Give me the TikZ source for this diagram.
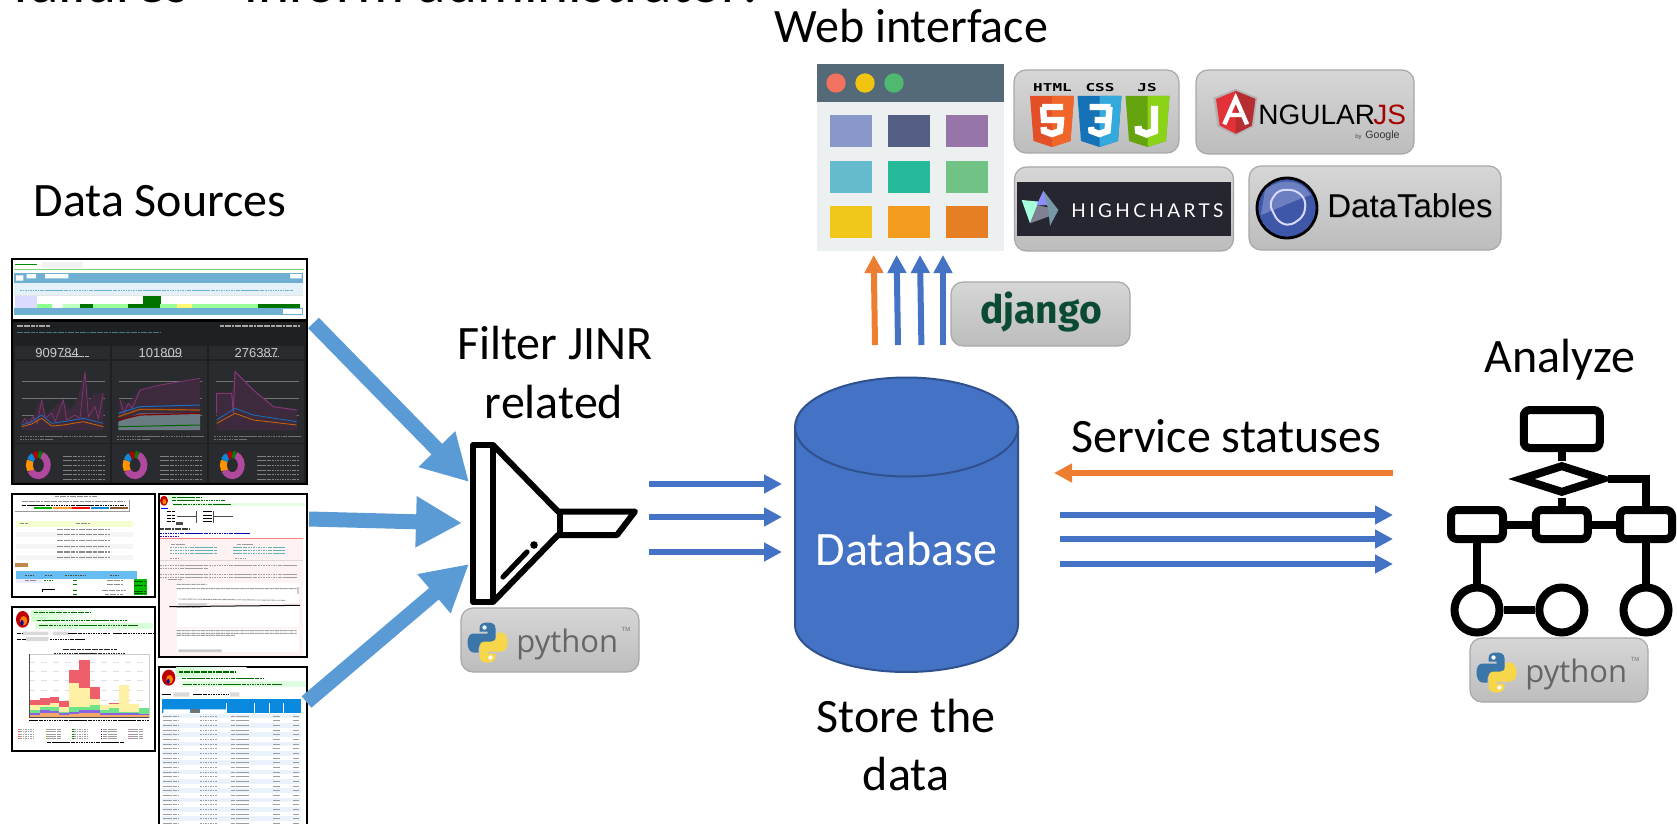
\documentclass[tikz,border=0pt]{standalone}
\usepackage{fontspec}
\setmainfont{Carlito}
\newfontfamily\lsans{Liberation Sans}
\newfontfamily\osans{Open Sans}
\newfontfamily\fira{Fira Sans}
\newfontfamily\monob{DejaVu Sans Mono}
\newfontfamily\hcfont[LetterSpace=18]{Lato}
\usetikzlibrary{arrows.meta,shapes.geometric}
\definecolor{fatblue}{HTML}{5B9BD5}
\definecolor{thinblue}{HTML}{4472C4}
\definecolor{dborder}{HTML}{2F528F}
\definecolor{statorange}{HTML}{ED7D31}
\definecolor{pyblue}{HTML}{3A76A8}
\definecolor{pyyellow}{HTML}{F7D64A}
\definecolor{dash}{HTML}{1F2022}
\definecolor{panel}{HTML}{2A2B2E}
\definecolor{maroon}{HTML}{3D2B3D}
\definecolor{hcdark}{HTML}{262630}
\definecolor{bandblue}{HTML}{6FAFD2}
\definecolor{headblue}{HTML}{E4F1F8}
\definecolor{tblblue}{HTML}{0A8ADF}
\definecolor{s3blue}{HTML}{67BDF2}
\definecolor{rowblue}{HTML}{EAF3FB}
\definecolor{hred}{HTML}{EE5F6B}
\definecolor{hyel}{HTML}{FEF1A5}
\definecolor{hgrn}{HTML}{6FE38A}
\definecolor{hvio}{HTML}{8A63E0}
\definecolor{hora}{HTML}{F4A96B}
\definecolor{magline}{HTML}{B0489E}
\definecolor{dtblue}{HTML}{3F57A8}
\definecolor{dtlight}{HTML}{7F90CC}
\tikzset{
  lbl/.style={font=\fontsize{24}{28}\selectfont,inner sep=0pt,anchor=base},
  fat/.style={draw=fatblue,line width=7.5pt,-{Triangle[length=23pt,width=24pt]}},
  thin/.style={draw=thinblue,line width=3pt,-{Triangle[length=9pt,width=9pt]}},
  thinor/.style={draw=statorange,line width=3pt,-{Triangle[length=9pt,width=9pt]}},
  badge/.style={rectangle,rounded corners=6pt,top color=black!16,bottom color=black!26,draw=black!34,line width=.6pt,inner sep=0pt,outer sep=0pt},
  shot/.style={draw=black,line width=1pt,fill=white},
  fbox/.style={rectangle,draw=black,line width=4pt,fill=white,rounded corners=3pt,inner sep=0pt},
  fcirc/.style={circle,draw=black,line width=4pt,fill=white,inner sep=0pt,minimum size=22.5pt},
  flink/.style={draw=black,line width=4pt},
  txt/.style={line width=.75pt,black!45,dash pattern=on 2pt off .25pt on 1pt off .4pt},
  txtsm/.style={line width=.45pt,black!38,dash pattern=on 1.2pt off .2pt on .7pt off .35pt},
  zoomfive/.style={shift={(0pt,-125pt)},x=.16667pt,y=-.16667pt},
  zoomsix/.style={shift={(0pt,-245pt)},x=.16667pt,y=-.16667pt},
  pybadge/.pic={
    \node[badge,minimum width=89pt,minimum height=32pt] (-box) at (89,32) {};
    \begin{scope}[shift={(26.5,34.5)}]
      \fill[pyblue] (-8,-14) .. controls (-8,-19) and (-4,-20) .. (0,-20) .. controls (4,-20) and (8,-19) .. (8,-14) -- (8,-4) .. controls (8,-1) and (6,1) .. (3,1) -- (-4,1) .. controls (-7,1) and (-9,3) .. (-9,6) -- (-9,10) -- (-14,10) .. controls (-18,10) and (-20,5) .. (-20,0) .. controls (-20,-5) and (-18,-9) .. (-14,-9) -- (0,-9) -- (0,-11) -- (-8,-11) -- cycle;
      \fill[white] (-3,-15) circle[radius=2.2];
      \fill[pyyellow] (8,14) .. controls (8,19) and (4,20) .. (0,20) .. controls (-4,20) and (-8,19) .. (-8,14) -- (-8,4) .. controls (-8,1) and (-6,-1) .. (-3,-1) -- (4,-1) .. controls (7,-1) and (9,-3) .. (9,-6) -- (9,-10) -- (14,-10) .. controls (18,-10) and (20,-5) .. (20,0) .. controls (20,5) and (18,9) .. (14,9) -- (0,9) -- (0,11) -- (8,11) -- cycle;
      \fill[white] (3,15) circle[radius=2.2];
    \end{scope}
    \node[inner sep=0pt,anchor=base west,text=black!60,font=\osans\fontsize{15.5}{18}\selectfont] (-txt) at (55,44) {python};
    \node[inner sep=0pt,text=black!55,font=\lsans\fontsize{3}{3}\selectfont] (-tm) at (165,21) {TM};
  }
}
\newcommand{\shieldlogo}[5]{%
  \begin{scope}[shift={(#1,96)}]
    \fill[#2] (0,0) -- (44,0) -- (40.5,45) -- (22,51) -- (3.5,45) -- cycle;
    \fill[#3] (22,0) -- (44,0) -- (40.5,45) -- (22,51) -- cycle;
    \draw[white,line width=#5pt,line join=miter] #4;
  \end{scope}}
\newcommand{\donutring}[2]{%
  \begin{scope}[shift={(#1,#2)},line width=3.4pt]
    \draw[magline] (-70:27 and 32) arc[start angle=-70,end angle=150,x radius=27,y radius=32];
    \draw[orange!85!yellow] (150:27 and 32) arc[start angle=150,end angle=205,x radius=27,y radius=32];
    \draw[cyan!70!blue] (205:27 and 32) arc[start angle=205,end angle=240,x radius=27,y radius=32];
    \draw[red!70!black] (240:27 and 32) arc[start angle=240,end angle=270,x radius=27,y radius=32];
    \draw[green!50!black] (270:27 and 32) arc[start angle=270,end angle=290,x radius=27,y radius=32];
  \end{scope}}
\begin{document}
\begin{tikzpicture}[x=.5pt,y=-.5pt]
\clip (0,0) rectangle (1677,824);
\fill[white] (0,0) rectangle (1677,824);

% cut-off heading
\node[inner sep=0pt,anchor=base west,font=\fontsize{29.5}{34}\selectfont] (head) at (13,3) {failures – inform administrator:};

% ---- screenshots
\begin{scope}[zoomfive]
  % S1
  \draw[shot] (36,28) rectangle (920,210);
  \fill[black!5] (125,35) rectangle (250,53);
  \draw[green!55!black,line width=.8pt] (46,44) -- (110,44);
  \fill[green!50!gray!70] (42,56) rectangle (912,60);
  \fill[bandblue] (42,68) rectangle (908,100);
  \fill[white] (48,76) rectangle (70,92) (80,72) rectangle (108,85) (135,72) rectangle (205,85) (870,72) rectangle (905,85);
  \fill[headblue] (42,100) rectangle (908,135);
  \draw[txtsm,bandblue] (60,120) -- (880,120);
  \fill[black!10] (42,135) rectangle (908,139);
  \fill[blue!14] (45,139) rectangle (112,175);
  \fill[green!45!black] (430,139) rectangle (483,162);
  \foreach \a/\b/\c in {112/155/green!45,155/190/white,190/240/green!25,240/280/green!45!black,280/385/green!40,385/480/green!45!black,480/530/green!40,530/575/yellow!55,575/775/green!40,775/900/green!45!black}
    \fill[\c] (\a,162) rectangle (\b,175);
  \fill[bandblue] (42,175) rectangle (908,195);
  \fill[white] (850,178) rectangle (905,192);
  % S2
  \draw[shot,fill=dash] (36,212) rectangle (920,703);
  \draw[txt,black!35] (50,228) -- (150,228) (660,228) -- (900,228);
  \draw[txt,cyan!50!black] (50,247) -- (480,247);
  \foreach \a in {45,336,627}{
    \fill[panel] (\a,288) rectangle +(284,38);
    \fill[panel] (\a,332) rectangle +(284,246);
    \fill[panel] (\a,583) rectangle +(284,112);
    \draw[black!55,line width=.3pt] (\a+20,395) -- +(250,0) (\a+20,445) -- +(250,0) (\a+20,495) -- +(250,0);
    \draw[txtsm,black!55] (\a+15,558) -- +(260,0) (\a+15,568) -- +(100,0);
    \foreach \y in {618,632,646,660,674,688}
      \draw[txtsm,black!50] (\a+145,\y) -- +(125,0);
  }
  \node[inner sep=0pt,text=black!20,font=\lsans\fontsize{6.5}{8}\selectfont,anchor=base west] (n1) at (105,323) {909784};
  \node[inner sep=0pt,text=black!20,font=\lsans\fontsize{6.5}{8}\selectfont,anchor=base west] (n2) at (415,323) {101809};
  \node[inner sep=0pt,text=black!20,font=\lsans\fontsize{6.5}{8}\selectfont,anchor=base west] (n3) at (703,323) {276387};
  \draw[txtsm,black!25] (182,318) -- (268,318) (490,318) -- (545,318) (780,318) -- (835,318);
  % chart 1
  \fill[maroon] (65,540) -- (65,520) -- (85,505) -- (100,500) -- (112,470) -- (125,450) -- (140,495) -- (165,470) -- (190,450) -- (205,480) -- (225,465) -- (240,420) -- (255,365) -- (268,450) -- (285,430) -- (310,430) -- (310,540) -- cycle;
  \draw[magline!75!black,line width=.35pt] (65,520) -- (75,505) -- (85,525) -- (100,500) -- (112,520) -- (125,450) -- (135,505) -- (155,490) -- (165,515) -- (190,450) -- (200,510) -- (225,495) -- (240,505) -- (255,365) -- (265,500) -- (285,470) -- (295,505) -- (310,430);
  \draw[cyan!50!blue,line width=.4pt] (65,525) -- (95,515) -- (125,495) -- (155,520) -- (190,515) -- (250,505) -- (310,520);
  \draw[orange!80!black,line width=.4pt] (65,530) -- (95,522) -- (125,505) -- (155,528) -- (190,525) -- (250,515) -- (310,530);
  % chart 2
  \fill[maroon] (355,540) -- (360,450) -- (385,460) -- (420,420) -- (480,405) -- (540,395) -- (600,385) -- (600,540) -- cycle;
  \draw[magline!75!black,line width=.4pt] (360,450) -- (372,490) -- (385,460) -- (397,475) -- (420,420) -- (480,405) -- (540,395) -- (600,385);
  \fill[black!60!cyan!50!gray] (355,540) -- (355,515) -- (420,490) -- (600,490) -- (600,540) -- cycle;
  \draw[cyan!50!blue,line width=.5pt] (355,490) -- (420,470) -- (600,465);
  \draw[orange!70!black,line width=.6pt] (355,500) -- (420,478) -- (600,480);
  \draw[red!50!black,line width=.6pt] (355,510) -- (420,495) -- (600,490);
  \draw[green!40!black,line width=.5pt] (355,530) -- (600,525);
  % chart 3
  \fill[maroon] (650,540) -- (650,430) -- (695,430) -- (705,365) -- (730,390) -- (760,420) -- (820,470) -- (890,480) -- (890,540) -- cycle;
  \draw[magline!75!black,line width=.5pt] (650,490) -- (650,430) -- (695,430) -- (700,490) -- (705,365) -- (730,390) -- (760,420) -- (820,470) -- (890,480);
  \draw[cyan!50!blue,line width=.4pt] (650,510) -- (705,475) -- (760,495) -- (890,515);
  \draw[orange!80!black,line width=.4pt] (650,520) -- (705,490) -- (760,510) -- (890,525);
  % donuts
  \donutring{115}{645}
  \donutring{405}{645}
  \donutring{697}{645}
\end{scope}
\begin{scope}[zoomsix]
  % S3 (white tables)
  \draw[shot] (36,12) rectangle (465,322);
  \draw[txt] (165,20) -- (290,20) (65,35) -- (375,35);
  \draw[txtsm,black] (65,46) -- (375,46);
  \fill[green!70!black] (102,52) rectangle (156,57);
  \fill[orange!80] (158,52) rectangle (215,57);
  \fill[red] (216,52) rectangle (270,57);
  \fill[cyan!70!blue] (272,52) rectangle (328,57);
  \fill[brown!70!black] (330,52) rectangle (383,57);
  \draw[black!40,line width=.5pt] (45,65) -- (388,65) -- (388,30);
  \draw[txtsm] (85,63) -- (350,63);
  \fill[green!25!yellow!18] (47,92) rectangle (398,110);
  \draw[txt] (60,101) -- (85,101) (228,101) -- (270,101);
  \foreach \y/\c in {118/white,134/black!4,152/white,169/black!4,186/white,203/black!4}{
    \fill[\c] (47,\y-8) rectangle (398,\y+8);
    \draw[txt] (170,\y) -- (330,\y);
  }
  \fill[orange!65!black!70] (46,219) rectangle (84,231);
  \fill[s3blue] (47,242) rectangle (412,267);
  \draw[txtsm,black!70] (75,255) -- (100,255) (135,255) -- (158,255) (195,255) -- (255,255) (330,255) -- (355,255);
  \fill[blue!8] (47,267) rectangle (125,278);
  \draw[txt] (75,272) -- (108,272) (320,272) -- (368,272) (320,283) -- (368,283) (305,302) -- (378,302) (315,313) -- (370,313);
  \draw[txtsm,green!50!black] (132,272) -- (160,272) (220,272) -- (232,272) (220,283) -- (232,283) (220,302) -- (232,302) (220,313) -- (232,313);
  \draw[black,line width=.4pt] (126,305) -- (126,297) -- (166,297);
  \fill[green!75!black] (401,268) rectangle (441,316);
  \draw[txtsm,green!30!black] (403,273) -- (439,273) (403,285) -- (439,285) (403,303) -- (439,303) (403,311) -- (439,311);
  % S5 (histogram)
  \draw[shot] (36,352) rectangle (465,783);
  \shade[left color=green!18,right color=white] (95,360) rectangle (300,395);
  \fill[green!15] (105,398) rectangle (460,416);
  \draw[txt,green!40!black] (102,368) -- (270,368);
  \draw[txtsm,green!40!black] (110,391) -- (380,391) (118,407) -- (415,407);
  \fill[red!75!black] (68,388) ellipse[x radius=20,y radius=25];
  \fill[orange] (71,392) ellipse[x radius=11,y radius=14];
  \fill[blue!70!black] (66,398) ellipse[x radius=5,y radius=8];
  \fill[black!15] (68,425) rectangle (145,435) (158,425) rectangle (205,435) (78,441) rectangle (145,453);
  \draw[txtsm,black] (50,430) -- (68,430) (205,430) -- (330,430) (340,430) -- (460,430) (50,447) -- (78,447) (150,447) -- (255,447);
  \draw[txt,black!85] (188,478) -- (350,478);
  \draw[txtsm,black!85] (162,489) -- (375,489);
  \draw[black!20,line width=.25pt] (88,492) rectangle (447,682);
  \foreach \y in {518,545,570,600,630,655}
    \draw[black!12,line width=.25pt,dashed] (88,\y) -- (447,\y);
  \foreach \a/\b/\r/\ya/\g/\p in {90/120/630/645/660/668,120/150/625/645/650/660,150/178/622/640/652/662,178/208/632/652/665/668,208/238/540/580/650/665,238/270/510/595/650/660,270/300/592/628/645/660,300/328/645/645/660/668,328/358/640/642/655/668,358/388/585/585/665/668,388/418/642/642/665/670,418/447/655/655/655/672}{
    \fill[hred] (\a,\r) rectangle (\b,682);
    \fill[hyel] (\a,\ya) rectangle (\b,682);
    \fill[hgrn] (\a,\g) rectangle (\b,682);
    \fill[hvio] (\a,\p) rectangle (\b,682);
    \fill[hora] (\a,{min(\p+8,676)}) rectangle (\b,682);
  }
  \draw[black!70,line width=.3pt] (88,492) -- (88,682) -- (447,682);
  \draw[txtsm,black] (88,690) -- (447,690);
  \foreach \x/\c in {60/red!60,142/yellow!65!black,222/green!55!black,308/violet,388/red!50}
    \foreach \y in {718,725,732,739,746}
      \draw[\c,line width=.3pt] (\x-5,\y) -- +(4,0);
  \foreach \x in {60,142,222,308,388}
    \foreach \y in {718,725,732,739,746}
      \draw[txtsm] (\x,\y) -- +(42,0);
  \draw[txtsm,black] (140,758) -- (375,758);
  % S4 (reading panel)
  \draw[shot] (476,12) rectangle (920,500);
  \shade[left color=green!15,right color=white] (505,15) rectangle (640,28);
  \fill[green!10] (515,38) rectangle (915,48);
  \fill[red!75!black] (492,32) ellipse[x radius=12,y radius=15];
  \fill[orange] (493,35) ellipse[x radius=6,y radius=8];
  \draw[txtsm,green!40!black] (515,22) -- (605,22) (515,32) -- (675,32) (520,43) -- (695,43);
  \draw[black!70,line width=.3pt] (530,78) -- (590,78) (590,62) -- (590,100) (640,78) -- (700,78) (640,62) -- (640,100);
  \draw[txtsm,blue] (484,56) -- (505,56);
  \draw[txtsm,black] (500,65) -- (525,65) (500,75) -- (525,75) (500,85) -- (525,85) (500,95) -- (525,95) (610,65) -- (635,65) (610,75) -- (635,75) (610,85) -- (635,85) (610,95) -- (635,95);
  \fill[black!70] (528,96) rectangle (548,104);
  \draw[txt,black!75] (480,117) -- (570,117);
  \draw[txtsm,blue!70!black] (480,129) -- (750,129);
  \fill[red!50] (480,143) rectangle (908,145);
  \draw[txtsm,blue!70!red] (480,139) -- (535,139);
  \fill[red!5] (480,146) rectangle (908,498);
  \foreach \y in {172,182,191}{
    \draw[txtsm,blue!50!green!60] (510,\y) -- (650,\y) (700,\y) -- (855,\y);
  }
  \draw[txtsm] (512,163) -- (555,163) (710,163) -- (760,163) (510,204) -- (535,204) (705,204) -- (735,204);
  \fill[black!15] (480,209) rectangle (908,214);
  \draw[txtsm] (480,227) -- (890,227) (480,236) -- (625,236) (480,253) -- (890,253) (480,262) -- (890,262) (505,268) -- (545,268);
  \fill[white] (530,279) rectangle (897,340);
  \fill[white] (530,348) rectangle (897,410);
  \fill[white] (530,418) rectangle (897,487);
  \draw[black,line width=.5pt] (508,350) -- (900,346);
  \draw[txtsm] (530,283) -- (620,283) (530,296) -- (890,296) (535,327) -- (855,331) (530,352) -- (605,352) (530,422) -- (890,422) (530,430) -- (890,430) (530,436) -- (705,436);
  \fill[black!20] (535,340) rectangle (620,346) (535,478) -- (665,478) -- (665,486) -- (535,486) -- cycle;
  \fill[black!20] (890,290) rectangle (897,312);
  % S6 (table)
  \draw[shot] (476,530) rectangle (920,1010);
  \shade[left color=green!20,right color=white] (528,533) rectangle (740,558);
  \fill[green!12] (545,572) rectangle (918,590);
  \fill[red!75!black] (506,563) ellipse[x radius=20,y radius=24];
  \fill[orange] (509,568) ellipse[x radius=10,y radius=13];
  \fill[blue!70!black] (505,574) ellipse[x radius=4,y radius=8];
  \draw[txt,green!40!black] (537,546) -- (705,546);
  \draw[txtsm,green!40!black] (545,565) -- (790,565) (550,582) -- (845,582);
  \fill[black!15] (520,607) rectangle (568,620) (690,607) rectangle (718,620);
  \draw[txtsm,black] (487,613) -- (515,613) (580,613) -- (688,613);
  \fill[tblblue] (487,628) rectangle (902,670);
  \fill[white] (490,658) rectangle (570,669) (600,658) rectangle (680,669);
  \fill[black!55] (572,658) rectangle (596,669);
  \foreach \x in {680,762,808,850}
    \draw[white,line width=.25pt] (\x,640) -- (\x,670);
  \foreach \y in {678,692,706,720,734,748,762,776,790,804,818,832,846,860,874,888,902,916,930,944,958,972,986,1000}{
    \pgfmathparse{mod(\y-678,28)==0?1:0}
    \ifnum\pgfmathresult=1\relax\fill[rowblue] (487,\y-7) rectangle (902,\y+7);\fi
    \draw[txtsm] (490,\y) -- (535,\y) (600,\y) -- (650,\y) (692,\y) -- (745,\y) (820,\y) -- (840,\y) (880,\y) -- (898,\y);
  }
\end{scope}

% ---- labels
\node[lbl] (dslbl) at (160,216) {Data Sources};
\node[lbl] (fjlbl) at (555,359) {Filter JINR};
\node[lbl] (rellbl) at (554,418) {related};
\node[lbl] (wilbl) at (911,43) {Web interface};
\node[lbl] (anlbl) at (1560,372) {Analyze};
\node[lbl] (sslbl) at (1226,452) {Service statuses};
\node[lbl] (stlbl) at (906,732) {Store the};
\node[lbl] (dalbl) at (906,790) {data};

% ---- funnel
\begin{scope}[line width=3pt,line join=round,black]
  \draw[fill=white] (473,445) rectangle (493,602);
  \draw (493,445) -- (558,511.5) -- (635,511.5) -- (617,535) -- (558,535) -- (493,602);
  \draw (560,511) -- (560,535);
  \draw[line width=2.6pt,line cap=round] (503,577) -- (527,552);
  \fill (534,545) circle[radius=3.8];
\end{scope}
\pic (pya) at (461,608) {pybadge};

% ---- database
\draw[fill=thinblue,draw=dborder,line width=1pt] (795,427) -- (795,625) .. controls (795,651) and (845,672) .. (906.5,672) .. controls (968,672) and (1018,651) .. (1018,625) -- (1018,427) -- cycle;
\draw[fill=thinblue,draw=dborder,line width=1pt] (906.5,427) ellipse[x radius=111.5,y radius=49.5];
\node[lbl,text=white] (dblbl) at (906.5,565) {Database};

% ---- browser window
\definecolor{winbody}{HTML}{ECF0F1}
\fill[winbody] (817,64) rectangle (1004,251);
\definecolor{winhead}{HTML}{546A79}
\fill[winhead] (817,64) rectangle (1004,102.5);
\definecolor{dred}{HTML}{F0725F}\definecolor{dyel}{HTML}{F1C40F}\definecolor{dgrn}{HTML}{4FBA6F}
\foreach \x/\c in {836/dred,865/dyel,894/dgrn}
  \fill[\c] (\x,83) circle[radius=9.7];
\foreach \x/\y/\c in {830/115/8A97C9,888/115/545E83,946/115/9775A8,830/161/65BACD,888/161/25BB9A,946/161/71C285,830/206/F1C71C,888/206/F39C1F,946/206/E67E24}{
  \definecolor{sq}{HTML}{\c}
  \fill[sq] (\x,\y) rectangle +(42,32);
}

% ---- technology badges
\node[badge,minimum width=82.5pt,minimum height=41.5pt] (bhtml) at (1096.5,111.5) {};
\node[inner sep=0pt,font=\monob\bfseries\fontsize{8}{8}\selectfont] (thtml) at (1052.5,88) {\scalebox{1}[.68]{HTML}};
\node[inner sep=0pt,font=\monob\bfseries\fontsize{8}{8}\selectfont] (tcss) at (1100,88) {\scalebox{1}[.68]{CSS}};
\node[inner sep=0pt,font=\monob\bfseries\fontsize{8}{8}\selectfont] (tjs) at (1147,88) {\scalebox{1}[.68]{JS}};
\definecolor{hta}{HTML}{E34F26}\definecolor{htb}{HTML}{F06529}
\definecolor{csa}{HTML}{1572B6}\definecolor{csb}{HTML}{33A9DC}
\definecolor{jsa}{HTML}{65A30F}\definecolor{jsb}{HTML}{8CD318}
\shieldlogo{1030}{hta}{htb}{(33,11) -- (12,11) (13,11) -- (14,24) -- (31,24) -- (30,35) -- (22,38) -- (14,35) -- (13.5,31)}{3.2}
\shieldlogo{1077.5}{csa}{csb}{(12,11) -- (33,11) (32,11) -- (31,24) -- (17,24) (31,24) -- (30,35) -- (22,38) -- (14,35) -- (13.5,31)}{3.2}
\shieldlogo{1125.5}{jsa}{jsb}{(29,10) -- (29,35) -- (21,38) -- (13,35) -- (12.5,30)}{3.6}

\node[badge,minimum width=109pt,minimum height=42pt] (bang) at (1305,112) {};
\begin{scope}[shift={(1010,65)},x=.16667pt,y=-.16667pt]
  \fill[black!30] (677,72) -- (742,98) -- (730,185) -- (677,212) -- (622,185) -- (610,98) -- cycle;
  \definecolor{ngred}{HTML}{E23237}\definecolor{ngdk}{HTML}{B52E31}
  \fill[ngred] (677,78) -- (736,102) -- (725,182) -- (677,206) -- (629,182) -- (618,102) -- cycle;
  \fill[ngdk] (677,78) -- (736,102) -- (725,182) -- (677,206) -- cycle;
  \draw[white,line width=2.2pt] (643,178) -- (677,100) -- (711,178) (657,150) -- (697,150);
\end{scope}
\node[inner sep=0pt,anchor=base west,font=\lsans\fontsize{14}{16}\selectfont] (tng) at (1258,125) {NGULAR};
\node[inner sep=0pt,anchor=base west,font=\lsans\fontsize{14}{16}\selectfont,text=red!65!black] (tjs2) at (1373,125) {JS};
\node[inner sep=0pt,anchor=base east,font=\lsans\fontsize{3}{4}\selectfont,text=black!70] (tby) at (1362,139) {by};
\node[inner sep=0pt,anchor=base east,font=\lsans\fontsize{5.3}{6}\selectfont,text=black!80] (tgo) at (1400,139) {Google};

\node[badge,minimum width=109.5pt,minimum height=42pt] (bhc) at (1124,209) {};
\fill[hcdark] (1017,182) rectangle (1231,236);
\begin{scope}[shift={(1010,160)},x=.16667pt,y=-.16667pt]
  \fill[green!40!cyan!35!white] (35,120) -- (88,125) -- (60,190) -- cycle;
  \fill[blue!45!white] (100,92) -- (80,135) -- (120,135) -- cycle;
  \fill[blue!15!black!50] (82,135) -- (145,150) -- (115,170) -- (60,190) -- cycle;
  \fill[cyan!45!black!70] (100,92) -- (145,150) -- (120,198) -- (115,150) -- cycle;
\end{scope}
\node[inner sep=0pt,anchor=base west,text=white,font=\hcfont\fontsize{9.5}{11}\selectfont] (thc) at (1071,218) {HIGHCHARTS};

\node[badge,minimum width=126pt,minimum height=42pt] (bdt) at (1375,208) {};
\draw[black,line width=1.4pt,fill=dtblue] (1287,208) circle[radius=30];
\fill[dtlight,opacity=.7] (1265,190) .. controls (1280,178) and (1300,178) .. (1311,195) .. controls (1295,200) and (1275,210) .. (1261,215) -- cycle;
\draw[white!85!blue,line width=1pt,line join=round,rounded corners=3pt] (1269,204) -- (1278,190) -- (1296,190) -- (1306,200) -- (1304,216) -- (1290,226) -- (1278,222) -- cycle;
\node[inner sep=0pt,anchor=base west,text=black!35,font=\lsans\fontsize{16.5}{18}\selectfont] (tdtsh) at (1327.5,219) {DataTables};
\node[inner sep=0pt,anchor=base west,font=\lsans\fontsize{16.5}{18}\selectfont] (tdt) at (1327,218) {DataTables};

\node[badge,minimum width=89.5pt,minimum height=32pt] (bdj) at (1040.5,314) {};
\definecolor{djgreen}{HTML}{0C4B33}
\node[inner sep=0pt,anchor=base,text=djgreen,font=\fira\bfseries\fontsize{19.5}{24}\selectfont] (tdj) at (1041,323) {django};

% ---- analyse flowchart
\node[fbox,minimum width=38pt,minimum height=19pt] (top) at (1561.8,429) {};
\node[diamond,draw=black,line width=4pt,fill=white,inner sep=0pt,aspect=3,minimum width=42pt,minimum height=14.5pt] (dec) at (1561.8,479) {};
\node[fbox,minimum width=26pt,minimum height=14.5pt] (bl) at (1477,524.5) {};
\node[fbox,minimum width=26pt,minimum height=14.5pt] (bm) at (1561.8,524.5) {};
\node[fbox,minimum width=26pt,minimum height=14.5pt] (br) at (1646,524.5) {};
\node[fcirc] (cl) at (1477,610) {};
\node[fcirc] (cm) at (1561.8,610) {};
\node[fcirc] (cr) at (1646,610) {};
\draw[flink] (top.south) -- (dec.north);
\draw[flink] (dec.south) -- (bm.north);
\draw[flink,line cap=butt] (dec.east) -| (br.north);
\draw[flink] (bl.east) -- (bm.west);
\draw[flink] (bm.east) -- (br.west);
\draw[flink] (bl.south) -- (cl.north);
\draw[flink] (br.south) -- (cr.north);
\draw[flink] (cl.east) -- (cm.west);
\pic (pyb) at (1470,638) {pybadge};

% ---- connectors
\coordinate (sa) at (313.5,323); \coordinate (ta) at (469,482);
\coordinate (sb) at (309,519);   \coordinate (tb) at (462,523);
\coordinate (sc) at (306.5,702); \coordinate (tc) at (469,564);
\draw[fat] (sa) -- (ta);
\draw[fat] (sb) -- (tb);
\draw[fat] (sc) -- (tc);
\coordinate (fa) at (649,484); \coordinate (da) at (782,484);
\coordinate (fb) at (649,517); \coordinate (db) at (782,517);
\coordinate (fc) at (649,552); \coordinate (dc) at (782,552);
\draw[thin] (fa) -- (da);
\draw[thin] (fb) -- (db);
\draw[thin] (fc) -- (dc);
\coordinate (ua) at (875,345);  \coordinate (va) at (873.7,255);
\coordinate (ub) at (898,345);  \coordinate (vb) at (896.6,255);
\coordinate (uc) at (921.4,345);\coordinate (vc) at (920,255);
\coordinate (ud) at (943,345);  \coordinate (vd) at (943,255);
\draw[thinor] (ua) -- (va);
\draw[thin] (ub) -- (vb);
\draw[thin] (uc) -- (vc);
\draw[thin] (ud) -- (vd);
\coordinate (oa) at (1393,473); \coordinate (ob) at (1054,473);
\draw[thinor] (oa) -- (ob);
\coordinate (ra) at (1060,515); \coordinate (rb) at (1393,515);
\coordinate (rc) at (1060,539); \coordinate (rd) at (1393,539);
\coordinate (re) at (1060,564); \coordinate (rf) at (1393,564);
\draw[thin] (ra) -- (rb);
\draw[thin] (rc) -- (rd);
\draw[thin] (re) -- (rf);
\end{tikzpicture}
\end{document}
